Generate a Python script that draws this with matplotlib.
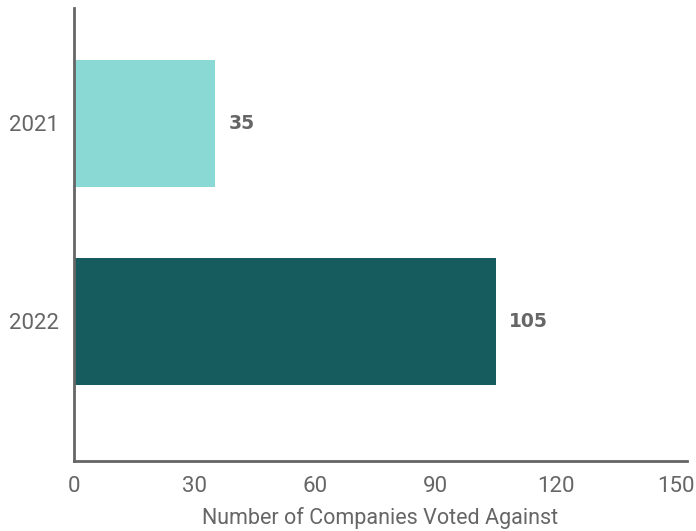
import matplotlib.pyplot as plt

years = ["2021", "2022"]
companies_voted_against = [35, 105]
bar_colors = ["#8AD9D5", "#165C5E"]
x_ticks = [0, 30, 60, 90, 120, 150]

text_gray = "#666666"
label_font = ["Roboto", "DejaVu Sans"]

fig = plt.figure(figsize=(6.96, 5.31), dpi=100)
ax = fig.add_axes([74 / 696, 70 / 531, 613 / 696, 453 / 531])

ax.barh(range(len(years)), companies_voted_against, height=0.64, color=bar_colors)

# value labels at the bar ends
for i, v in enumerate(companies_voted_against):
    ax.annotate(str(v), xy=(v, i), xytext=(10, 0), textcoords="offset points",
                va="center", ha="left", fontsize=13.5, fontweight="bold",
                color=text_gray, family="DejaVu Sans")

ax.set_xlim(0, 152.7)
ax.set_ylim(1.705, -0.583)
ax.set_xticks(x_ticks)
ax.set_yticks(range(len(years)))
ax.set_yticklabels(years)

for lbl in ax.get_xticklabels() + ax.get_yticklabels():
    lbl.set_family(label_font)
    lbl.set_fontsize(16)
    lbl.set_color(text_gray)
ax.tick_params(axis="x", length=0, pad=11)
ax.tick_params(axis="y", length=0, pad=11)
ax.set_xlabel("Number of Companies Voted Against", family=label_font,
              fontsize=15.5, color=text_gray, labelpad=7)

for side in ["top", "right"]:
    ax.spines[side].set_visible(False)
for side in ["left", "bottom"]:
    ax.spines[side].set_color(text_gray)
    ax.spines[side].set_linewidth(2)

fig.savefig("out.png", dpi=100)
